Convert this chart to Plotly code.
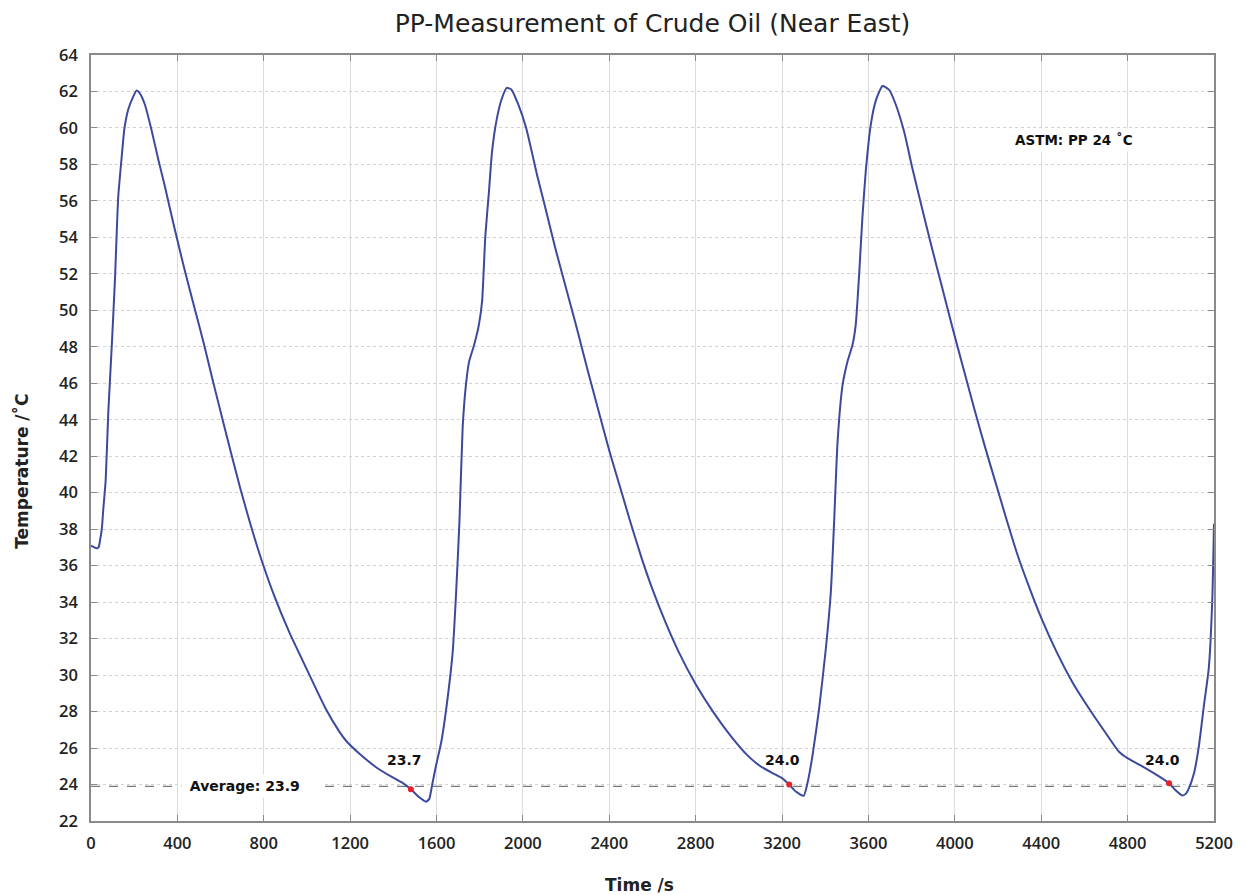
import plotly.graph_objects as go

# ---- data ----
time_s = [
    0, 15, 26, 35, 42, 50, 57, 68, 80, 96, 111, 126, 142, 154, 172, 195, 211, 226, 249, 280,
    311, 342, 373, 403, 434, 480, 522, 563, 605, 648, 692, 740, 790, 850, 920, 1000, 1085, 1150,
    1181, 1242, 1320, 1395, 1441, 1481, 1520, 1551, 1566, 1580, 1597, 1623, 1653, 1675, 1691,
    1706, 1721, 1736, 1751, 1774, 1796, 1811, 1826, 1842, 1857, 1879, 1902, 1925, 1947, 1978,
    2015, 2068, 2100, 2150, 2200, 2250, 2300, 2350, 2400, 2450, 2500, 2550, 2600, 2660, 2720,
    2800, 2880, 2960, 3040, 3100, 3160, 3200, 3233, 3265, 3300, 3318, 3341, 3372, 3403, 3426,
    3441, 3457, 3480, 3503, 3526, 3541, 3557, 3572, 3588, 3611, 3634, 3665, 3695, 3726, 3765,
    3803, 3840, 3890, 3940, 3990, 4040, 4090, 4140, 4190, 4240, 4290, 4345, 4405, 4470, 4545,
    4625, 4700, 4760, 4799, 4860, 4938, 4992, 5021, 5053, 5070, 5084, 5107, 5130, 5153, 5176,
    5192, 5200,
]
temp_c = [
    37.1, 37.0, 36.95, 37.0, 37.4, 38.0, 39.1, 40.7, 44.4, 48.0, 51.7, 56.2, 58.4, 59.9, 61.0,
    61.7, 62.05, 61.9, 61.3, 59.9, 58.3, 56.8, 55.2, 53.7, 52.2, 50.1, 48.2, 46.2, 44.2, 42.2,
    40.2, 38.2, 36.3, 34.3, 32.3, 30.3, 28.2, 26.9, 26.4, 25.7, 24.95, 24.4, 24.1, 23.74, 23.3,
    23.06, 23.2, 24.0, 25.0, 26.4, 28.9, 31.3, 34.6, 38.4, 43.6, 45.9, 47.2, 48.1, 49.2, 50.5,
    54.1, 56.4, 58.7, 60.5, 61.6, 62.2, 62.1, 61.3, 60.0, 57.3, 55.8, 53.4, 51.2, 49.0, 46.7,
    44.5, 42.3, 40.3, 38.3, 36.4, 34.7, 32.9, 31.3, 29.5, 28.0, 26.7, 25.6, 25.0, 24.6, 24.35,
    24.0, 23.6, 23.38, 24.1, 25.6, 28.2, 31.5, 34.6, 38.4, 42.8, 45.9, 47.2, 48.1, 49.2, 52.0,
    55.1, 57.7, 60.2, 61.5, 62.3, 62.1, 61.3, 59.8, 57.8, 56.0, 53.6, 51.3, 49.0, 46.8, 44.6,
    42.5, 40.5, 38.5, 36.6, 34.8, 33.0, 31.3, 29.6, 28.1, 26.8, 25.8, 25.45, 25.05, 24.5, 24.07,
    23.7, 23.4, 23.5, 23.8, 24.6, 26.1, 28.3, 30.4, 34.1, 38.3,
]

pp_time = [1481, 3233, 4992]
pp_temp = [23.74, 24.0, 24.07]
pp_labels = ["23.7", "24.0", "24.0"]
average_value = 23.9
average_label = "Average: 23.9"
astm_label = "ASTM: PP 24 ˚C"

x_ticks = list(range(0, 5201, 400))
y_ticks = list(range(22, 65, 2))

TICKFONT = "Open Sans"
LABFONT = "DejaVu Sans"
LINE = "#3b4a9c"

fig = go.Figure()

# average line
fig.add_trace(go.Scatter(
    x=[0, 5200], y=[average_value, average_value], mode="lines",
    line=dict(color="#7a7a7a", width=1.3, dash="dash"), hoverinfo="skip", showlegend=False))

fig.add_trace(go.Scatter(
    x=time_s, y=temp_c, mode="lines",
    line=dict(color=LINE, width=2, shape="spline", smoothing=0.5), showlegend=False))

fig.add_trace(go.Scatter(
    x=pp_time, y=pp_temp, mode="markers",
    marker=dict(color="#e8202a", size=6), showlegend=False))

for t, v, lab in zip(pp_time, pp_temp, pp_labels):
    fig.add_annotation(x=t - 30, y=25.35, text=lab, showarrow=False,
                       font=dict(family=LABFONT, size=14, color="#111111", weight="bold"))

fig.add_annotation(x=745, y=average_value,
                   text="&nbsp;" + average_label + "&nbsp;&nbsp;&nbsp;&nbsp;",
                   showarrow=False, bgcolor="white", borderpad=3,
                   font=dict(family=LABFONT, size=14, color="#111111", weight="bold"))
fig.add_annotation(x=4550, y=59.34, text=astm_label, showarrow=False,
                   bgcolor="white", borderpad=3,
                   font=dict(family=LABFONT, size=13.5, color="#111111", weight="bold"))

# axis titles
fig.add_annotation(xref="paper", yref="paper", x=0.488, y=-0.0836, yanchor="middle",
                   text="Time /s", showarrow=False,
                   font=dict(family=LABFONT, size=17, color="#222222", weight="bold"))
fig.add_annotation(xref="paper", yref="paper", x=-0.0613, y=0.456, xanchor="center",
                   text="Temperature /˚C", textangle=-90, showarrow=False,
                   font=dict(family=LABFONT, size=17, color="#222222", weight="bold"))

axis_common = dict(
    showline=True, linecolor="#8a8a8a", linewidth=1.5, mirror="ticks",
    ticks="inside", ticklen=6, tickcolor="#8a8a8a", tickwidth=1.2,
    tickfont=dict(family=TICKFONT, size=16.5, color="#222222", weight=600),
    zeroline=False, showgrid=True,
)

fig.update_xaxes(range=[0, 5200], tickvals=x_ticks, ticktext=[str(v) for v in x_ticks],
                 gridcolor="#dcdcdc", gridwidth=1, griddash="solid",
                 ticklabelstandoff=6, **axis_common)
fig.update_yaxes(range=[22, 64], tickvals=y_ticks, ticktext=[str(v) for v in y_ticks],
                 gridcolor="#d2d2d2", gridwidth=1, griddash="dot",
                 ticklabelstandoff=8, **axis_common)

fig.update_layout(
    width=1237, height=887,
    margin=dict(l=83, r=28, t=47, b=74),
    paper_bgcolor="white", plot_bgcolor="white",
    title=dict(text="PP-Measurement of Crude Oil (Near East)", x=0.5, xref="paper",
               y=1 - 15 / 887, yanchor="middle",
               font=dict(family=LABFONT, size=25, color="#222222")),
    showlegend=False,
)

fig.write_html("out.html")
